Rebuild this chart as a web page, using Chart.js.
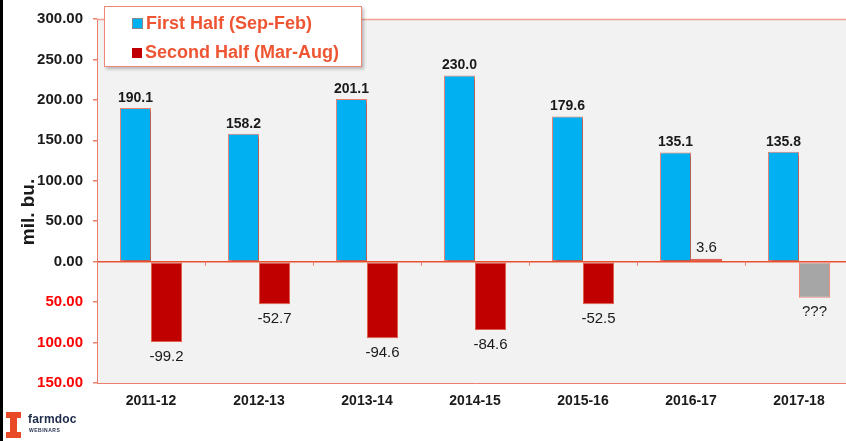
<!DOCTYPE html>
<html>
<head>
<meta charset="utf-8">
<script src="https://cdn.jsdelivr.net/npm/chart.js@4.4.1/dist/chart.umd.min.js"></script>
<style>
  html, body { margin: 0; padding: 0; background: #fff; overflow: hidden; }
  #wrap { position: relative; width: 846px; height: 441px; overflow: hidden; }
  #edge { position: absolute; left: 0; top: 0; width: 3px; height: 441px; background: #000; }
  #legend {
    position: absolute; left: 104px; top: 6px; width: 256px; height: 59px;
    background: #fff; border: 1px solid #F08878; box-shadow: 2px 2px 3px rgba(0,0,0,0.25);
    font: bold 18px Arial, "Liberation Sans", sans-serif; color: #EE5533;
  }
  .item { position: absolute; left: 27px; height: 20px; line-height: 20px; white-space: nowrap; }
  .item span { display: inline-block; width: 10px; height: 10px; margin-right: 3px; vertical-align: 0px; }
  #logo { position: absolute; left: 6px; top: 412px; width: 80px; height: 28px; }
  .ill { position: absolute; background: #E84A27; }
  #logo .t1 { position: absolute; left: 22px; top: 0px; font: bold 12px Arial, sans-serif; color: #1E2A4A; letter-spacing: 0.2px; }
  #logo .t2 { position: absolute; left: 23px; top: 15px; font: bold 5px Arial, sans-serif; color: #1E2A4A; letter-spacing: 0.5px; }
</style>
</head>
<body>
<div id="wrap">
  <canvas id="myChart" width="856" height="441"></canvas>
  <div id="edge"></div>
  <div id="legend">
    <div class="item" style="top:6px"><span style="background:#00B0F0;border:1px solid #888;width:9px;height:9px"></span>First Half (Sep-Feb)</div>
    <div class="item" style="top:35px"><span style="background:#C00000"></span>Second Half (Mar-Aug)</div>
  </div>
  <div id="logo">
    <div class="ill" style="left:0;top:0;width:15px;height:6px"></div>
    <div class="ill" style="left:4px;top:0;width:7px;height:26px"></div>
    <div class="ill" style="left:0;top:20px;width:15px;height:6px"></div>
    <div class="t1">farmdoc</div>
    <div class="t2">WEBINARS</div>
  </div>
</div>
<script>
// 차트 데이터
var years = ['2011-12', '2012-13', '2013-14', '2014-15', '2015-16', '2016-17', '2017-18'];
var firstHalf = [190.1, 158.2, 201.1, 230.0, 179.6, 135.1, 135.8];
var secondHalf = [-99.2, -52.7, -94.6, -84.6, -52.5, 3.6, -44.5];
var secondLabels = ['-99.2', '-52.7', '-94.6', '-84.6', '-52.5', '3.6', '???'];
var yTicks = { min: -150, max: 300, step: 50 };
var yTitle = 'mil. bu.';

var FONT = 'Arial, "Liberation Sans", sans-serif';
var LINE = '#EE7E6C';

// 막대 색 (마지막 값은 미정이라 회색)
var secondColors = secondHalf.map((v, i) => i === secondHalf.length - 1 ? '#A6A6A6' : '#C00000');
var secondBorders = secondHalf.map((v, i) => i === secondHalf.length - 1 ? '#F08878' : '#E0604E');

// 배경, 위쪽 테두리, 0선 눈금, y축 제목
const framePlugin = {
	id: 'frame',
	beforeDraw(chart) {
		const a = chart.chartArea, c = chart.ctx;
		c.save();
		c.fillStyle = '#F2F2F2';
		c.fillRect(a.left, a.top, a.right - a.left, a.bottom - a.top);
		c.strokeStyle = '#F4A090';
		c.lineWidth = 1.5;
		c.beginPath();
		c.moveTo(a.left, a.top + 0.5);
		c.lineTo(a.right, a.top + 0.5);
		c.stroke();
		c.restore();
	},
	afterDraw(chart) {
		const a = chart.chartArea, c = chart.ctx;
		const y0 = chart.scales.y.getPixelForValue(0);
		const w = (a.right - a.left) / years.length;
		c.save();
		c.strokeStyle = LINE;
		c.lineWidth = 1;
		for (let i = 1; i < years.length; i++) {
			const x = Math.round(a.left + i * w) + 0.5;
			c.beginPath();
			c.moveTo(x, y0);
			c.lineTo(x, y0 + 4);
			c.stroke();
		}
		// y축 제목 (조금 아래쪽에 위치)
		c.translate(29, 212);
		c.rotate(-Math.PI / 2);
		c.font = 'bold 19px ' + FONT;
		c.fillStyle = '#1A1A1A';
		c.textAlign = 'center';
		c.textBaseline = 'middle';
		c.fillText(yTitle, 0, 0);
		c.restore();
	}
};

// 파란 막대 그림자
const shadowPlugin = {
	id: 'barShadow',
	beforeDatasetDraw(chart, args) {
		if (args.index !== 0) return;
		const c = chart.ctx;
		c.save();
		c.shadowColor = 'rgba(0,0,0,0.35)';
		c.shadowOffsetX = 2;
		c.shadowOffsetY = 2;
		c.shadowBlur = 3;
	},
	afterDatasetDraw(chart, args) {
		if (args.index !== 0) return;
		chart.ctx.restore();
	}
};

// 값 라벨
const labelPlugin = {
	id: 'valueLabels',
	afterDatasetsDraw(chart) {
		const c = chart.ctx;
		c.save();
		c.textAlign = 'center';
		c.fillStyle = '#1A1A1A';
		chart.getDatasetMeta(0).data.forEach((bar, i) => {
			c.font = 'bold 14px ' + FONT;
			c.textBaseline = 'bottom';
			c.fillText(firstHalf[i].toFixed(1), bar.x, bar.y - 3);
		});
		chart.getDatasetMeta(1).data.forEach((bar, i) => {
			c.font = '15px ' + FONT;
			if (secondHalf[i] >= 0) {
				c.textBaseline = 'bottom';
				c.fillText(secondLabels[i], bar.x, bar.y - 3);
			} else {
				c.textBaseline = 'top';
				c.fillText(secondLabels[i], bar.x, bar.y + 7);
			}
		});
		c.restore();
	}
};

const ctx = document.getElementById('myChart');

var myChart = new Chart(ctx, {
	type: 'bar',
	data: {
		labels: years,
		datasets: [{
			label: 'First Half (Sep-Feb)',
			data: firstHalf,
			backgroundColor: '#00B0F0',
			borderColor: '#F08070',
			borderWidth: 1,
			borderSkipped: false,
			categoryPercentage: 0.575,
			barPercentage: 1.0
		}, {
			label: 'Second Half (Mar-Aug)',
			data: secondHalf,
			backgroundColor: secondColors,
			borderColor: secondBorders,
			borderWidth: 1,
			borderSkipped: false,
			categoryPercentage: 0.575,
			barPercentage: 1.0
		}]
	},
	options: {
		responsive: false,
		animation: false,
		layout: { padding: { left: 0, top: 18, right: 3, bottom: 0 } },
		plugins: {
			legend: { display: false },
			tooltip: { enabled: false }
		},
		scales: {
			x: {
				grid: { display: false, drawTicks: false },
				border: { display: true, color: LINE, width: 1 },
				ticks: {
					padding: 10,
					color: '#1A1A1A',
					font: { family: FONT, size: 14, weight: 'bold' }
				},
				afterFit: s => { s.height = 58; }
			},
			y: {
				min: yTicks.min,
				max: yTicks.max,
				border: { display: true, color: LINE, width: 1 },
				grid: {
					color: c => c.tick && c.tick.value === 0 ? '#E8502F' : 'rgba(0,0,0,0)',
					lineWidth: 1.5,
					drawTicks: true,
					tickLength: 4,
					tickColor: LINE
				},
				ticks: {
					stepSize: yTicks.step,
					padding: 10,
					color: c => c.tick.value < 0 ? '#FF0000' : '#1A1A1A',
					font: { family: FONT, size: 15, weight: 'bold' },
					callback: v => Math.abs(v).toFixed(2)
				},
				afterFit: s => { s.width = 97; }
			}
		}
	},
	plugins: [framePlugin, shadowPlugin, labelPlugin]
});
</script>
</body>
</html>
